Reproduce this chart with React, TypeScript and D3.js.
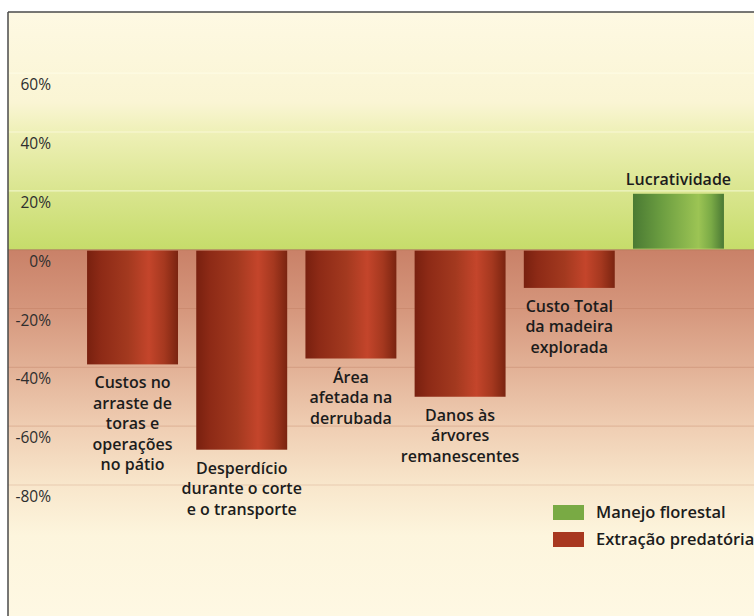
import React from "react";
import * as d3 from "d3";

const categories = [
  "Custos no arraste de toras e operações no pátio",
  "Desperdício durante o corte e o transporte",
  "Área afetada na derrubada",
  "Danos às árvores remanescentes",
  "Custo Total da madeira explorada",
  "Lucratividade",
];
const labelLines = [
  ["Custos no", "arraste de", "toras e", "operações", "no pátio"],
  ["Desperdício", "durante o corte", "e o transporte"],
  ["Área", "afetada na", "derrubada"],
  ["Danos às", "árvores", "remanescentes"],
  ["Custo Total", "da madeira", "explorada"],
  ["Lucratividade"],
];
const values = [-39, -68, -37, -50, -13, 19];
const series = ["Extração predatória", "Extração predatória", "Extração predatória", "Extração predatória", "Extração predatória", "Manejo florestal"];
const yTicks = [60, 40, 20, 0, -20, -40, -60, -80];
const legendItems = ["Manejo florestal", "Extração predatória"];

const W = 754;
const H = 616;
const FONT = "'Open Sans', 'Noto Sans', sans-serif";

export default function App() {
  const frameLeft = 8;
  const frameTop = 12;
  const y = d3.scaleLinear().domain([-80, 40]).range([485, 132]);
  const x = d3
    .scaleBand<string>()
    .domain(categories)
    .range([78, 733])
    .paddingInner(0.167)
    .paddingOuter(0.083);
  const y0 = y(0);
  const bw = x.bandwidth();

  const colorFor = (s: string) => (s === "Manejo florestal" ? "url(#gGreen)" : "url(#gRed)");

  return (
    <svg
      width={W}
      height={H}
      viewBox={`0 0 ${W} ${H}`}
      style={{ position: "absolute", left: 0, top: 0, background: "#ffffff" }}
    >
      <defs>
        <linearGradient id="bgTop" x1="0" y1="0" x2="0" y2="1">
          <stop offset="0" stopColor="#fef9e3" />
          <stop offset="0.38" stopColor="#faf5d4" />
          <stop offset="0.51" stopColor="#eef0b6" />
          <stop offset="0.76" stopColor="#d9e58e" />
          <stop offset="1" stopColor="#c6dc6a" />
        </linearGradient>
        <linearGradient id="bgBottom" x1="0" y1="0" x2="0" y2="1">
          <stop offset="0" stopColor="#c98168" />
          <stop offset="0.16" stopColor="#d5967c" />
          <stop offset="0.32" stopColor="#e2b196" />
          <stop offset="0.48" stopColor="#efcdb2" />
          <stop offset="0.64" stopColor="#f8e6cb" />
          <stop offset="0.78" stopColor="#fdf5dd" />
          <stop offset="1" stopColor="#fef8e3" />
        </linearGradient>
        <linearGradient id="gRed" x1="0" y1="0" x2="1" y2="0">
          <stop offset="0" stopColor="#78200f" />
          <stop offset="0.15" stopColor="#8d2a16" />
          <stop offset="0.45" stopColor="#a3391f" />
          <stop offset="0.68" stopColor="#c4452b" />
          <stop offset="0.85" stopColor="#a5381f" />
          <stop offset="1" stopColor="#7a2410" />
        </linearGradient>
        <linearGradient id="gGreen" x1="0" y1="0" x2="1" y2="0">
          <stop offset="0" stopColor="#4a7a33" />
          <stop offset="0.3" stopColor="#6a9c40" />
          <stop offset="0.72" stopColor="#9cc454" />
          <stop offset="0.86" stopColor="#7aaa46" />
          <stop offset="1" stopColor="#4a7934" />
        </linearGradient>
      </defs>

      {/* backgrounds */}
      <rect x={frameLeft} y={frameTop} width={W - frameLeft} height={y0 - frameTop} fill="url(#bgTop)" />
      <rect x={frameLeft} y={y0} width={W - frameLeft} height={H - y0} fill="url(#bgBottom)" />

      {/* gridlines */}
      {yTicks
        .filter((t) => t !== 0)
        .map((t) => (
          <line
            key={`g${t}`}
            x1={frameLeft}
            x2={W}
            y1={y(t)}
            y2={y(t)}
            stroke={t > 0 ? "rgba(255,255,235,0.6)" : "rgba(170,95,65,0.2)"}
            strokeWidth={1.2}
          />
        ))}
      <line x1={frameLeft} x2={W} y1={y0} y2={y0} stroke="rgba(150,110,60,0.55)" strokeWidth={1} />

      {/* axis labels */}
      {yTicks.map((t) => (
        <text
          key={`t${t}`}
          x={51}
          y={y(t) + 17}
          textAnchor="end"
          fontFamily={FONT}
          fontSize={15.5}
          fill="#2e2e2e"
        >
          {`${t}%`}
        </text>
      ))}

      {/* bars */}
      {categories.map((c, i) => {
        const v = values[i];
        const top = Math.min(y(v), y0);
        const h = Math.abs(y(v) - y0);
        return (
          <rect
            key={c}
            x={x(c)}
            y={v < 0 ? top + 1 : top}
            width={bw}
            height={h - 1}
            fill={colorFor(series[i])}
          />
        );
      })}

      {/* bar labels */}
      {categories.map((c, i) => {
        const v = values[i];
        const cx = (x(c) as number) + bw / 2;
        const lines = labelLines[i];
        const lh = 20.5;
        const startY = v < 0 ? y(v) + 24 : y(v) - 9;
        return (
          <text
            key={`l${c}`}
            textAnchor="middle"
            fontFamily={FONT}
            fontSize={16}
            fontWeight={600}
            fill="#1c1c1c"
          >
            {lines.map((ln, j) => (
              <tspan key={j} x={cx} y={startY + j * lh}>
                {ln}
              </tspan>
            ))}
          </text>
        );
      })}

      {/* legend */}
      {legendItems.map((s, i) => (
        <g key={s} transform={`translate(553, ${505 + i * 27})`}>
          <rect width={31} height={15} fill={s === "Manejo florestal" ? "#79aa44" : "#a8381f"} />
          <text x={43} y={13} fontFamily={FONT} fontSize={16.5} fontWeight={600} fill="#1c1c1c">
            {s}
          </text>
        </g>
      ))}

      {/* frame */}
      <line x1={frameLeft} x2={frameLeft} y1={frameTop} y2={H} stroke="#4a4a4a" strokeWidth={1.5} />
      <line x1={frameLeft} x2={W} y1={frameTop} y2={frameTop} stroke="#4a4a4a" strokeWidth={1.5} />
    </svg>
  );
}
